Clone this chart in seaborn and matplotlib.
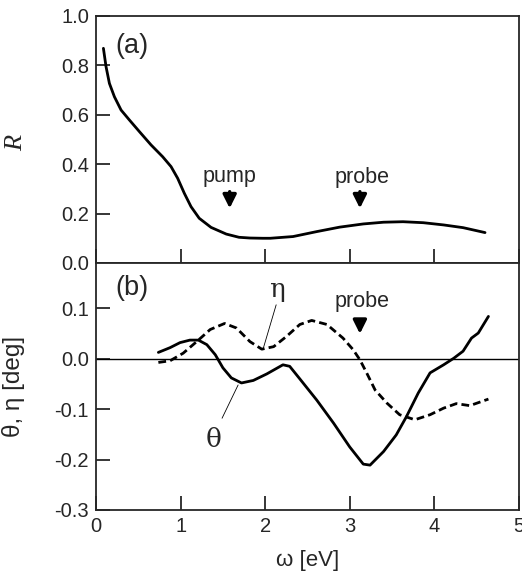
import numpy as np
import pandas as pd
import matplotlib
matplotlib.use("Agg")
import matplotlib.pyplot as plt
import seaborn as sns

# (a) reflectivity R vs photon energy
omega_R = [0.087, 0.118, 0.158, 0.217, 0.296, 0.394, 0.512, 0.650, 0.788, 0.887,
           0.965, 1.044, 1.123, 1.22, 1.36, 1.54, 1.69, 1.82, 1.97, 2.06, 2.33,
           2.61, 2.88, 3.16, 3.40, 3.63, 3.87, 4.11, 4.34, 4.60]
R_vals = [0.869, 0.795, 0.727, 0.673, 0.619, 0.579, 0.532, 0.478, 0.430, 0.390,
          0.343, 0.282, 0.228, 0.181, 0.144, 0.117, 0.104, 0.101, 0.100, 0.100,
          0.107, 0.127, 0.145, 0.158, 0.165, 0.167, 0.163, 0.154, 0.143, 0.123]

# (b) Kerr rotation theta and ellipticity eta
omega_theta = [0.737, 0.875, 0.993, 1.11, 1.21, 1.31, 1.41, 1.50, 1.60, 1.72, 1.86,
               2.02, 2.21, 2.29, 2.41, 2.61, 2.81, 3.00, 3.16, 3.24, 3.40, 3.55,
               3.67, 3.81, 3.95, 4.11, 4.23, 4.34, 4.44, 4.52, 4.64]
theta_vals = [0.0126, 0.022, 0.032, 0.037, 0.037, 0.028, 0.008, -0.018, -0.038,
              -0.048, -0.043, -0.030, -0.012, -0.015, -0.040, -0.082, -0.128,
              -0.175, -0.209, -0.211, -0.184, -0.151, -0.115, -0.068, -0.028,
              -0.012, 0.001, 0.015, 0.041, 0.051, 0.084]
omega_eta = [0.737, 0.875, 1.03, 1.19, 1.35, 1.52, 1.66, 1.82, 1.96, 2.10, 2.25,
             2.41, 2.55, 2.73, 2.92, 3.04, 3.12, 3.20, 3.30, 3.44, 3.59, 3.77,
             3.95, 4.11, 4.26, 4.42, 4.64]
eta_vals = [-0.0073, -0.004, 0.011, 0.034, 0.058, 0.070, 0.061, 0.034, 0.019,
            0.024, 0.044, 0.068, 0.076, 0.068, 0.041, 0.018, -0.002, -0.028,
            -0.062, -0.088, -0.111, -0.121, -0.111, -0.098, -0.089, -0.093, -0.080]

pump_omega = 1.58
probe_omega = 3.12

sns.set_style("ticks")
plt.rcParams['font.family'] = ['Liberation Sans', 'DejaVu Sans']
plt.rcParams['mathtext.fontset'] = 'custom'
plt.rcParams['mathtext.it'] = 'Liberation Serif:italic'

df_R = pd.DataFrame({'omega': omega_R, 'R': R_vals})
df_th = pd.DataFrame({'omega': omega_theta, 'val': theta_vals})
df_eta = pd.DataFrame({'omega': omega_eta, 'val': eta_vals})

fig = plt.figure(figsize=(5.22, 5.80), dpi=100)
ax1 = fig.add_axes([0.184, 0.5466, 0.810, 0.4259])
ax2 = fig.add_axes([0.184, 0.1207, 0.810, 0.4259])

sns.lineplot(data=df_R, x='omega', y='R', ax=ax1, color='black', lw=2.0, sort=False)
sns.lineplot(data=df_th, x='omega', y='val', ax=ax2, color='black', lw=2.0, sort=False)
sns.lineplot(data=df_eta, x='omega', y='val', ax=ax2, color='black', lw=2.0,
             sort=False, linestyle=(0, (2.8, 1.5)))
ax2.axhline(0, color='black', lw=1.0)

for ax in (ax1, ax2):
    ax.set_xlim(0, 5)
    ax.tick_params(direction='in', length=10, width=1.3, labelsize=14.5, pad=5)
    for sp in ax.spines.values():
        sp.set_linewidth(1.3)
    ax.set_xticks([0, 1, 2, 3, 4, 5])

ax1.set_ylim(0, 1.0)
ax1.set_yticks([0.0, 0.2, 0.4, 0.6, 0.8, 1.0])
ax1.set_yticklabels(['0.0', '0.2', '0.4', '0.6', '0.8', '1.0'])
ax1.set_xticklabels([])
ax1.set_xlabel('')
ax1.set_ylabel(r'$\mathit{R}$', fontsize=19)
ax1.yaxis.set_label_coords(-0.163, 0.49)

ax2.set_ylim(-0.3, 0.19)
ax2.set_yticks([-0.3, -0.2, -0.1, 0.0, 0.1])
ax2.set_yticklabels(['-0.3', '-0.2', '-0.1', '0.0', '0.1'])
ax2.set_xlabel('ω [eV]', fontsize=16, labelpad=10)
ax2.set_ylabel('θ, η [deg]', fontsize=17.5)
ax2.yaxis.set_label_coords(-0.168, 0.50)

ax1.text(0.42, 0.88, '(a)', fontsize=19.5, ha='center', va='center')
ax2.text(0.42, 0.14, '(b)', fontsize=19.5, ha='center', va='center')

arrow = dict(arrowstyle='-|>,head_width=0.4,head_length=0.8', color='black', lw=2.4)
ax1.text(pump_omega, 0.35, 'pump', fontsize=15.5, ha='center', va='center')
ax1.annotate('', xy=(pump_omega, 0.21), xytext=(pump_omega, 0.30), arrowprops=arrow)
ax1.text(probe_omega + 0.02, 0.345, 'probe', fontsize=15.5, ha='center', va='center')
ax1.annotate('', xy=(probe_omega, 0.21), xytext=(probe_omega, 0.30), arrowprops=arrow)
ax2.text(probe_omega + 0.02, 0.114, 'probe', fontsize=15.5, ha='center', va='center')
ax2.annotate('', xy=(probe_omega, 0.044), xytext=(probe_omega, 0.082), arrowprops=arrow)

ax2.text(2.14, 0.137, 'η', fontsize=19, ha='center', va='center', family='DejaVu Serif')
ax2.plot([2.13, 1.98], [0.107, 0.022], color='black', lw=0.6)
ax2.text(1.39, -0.161, 'θ', fontsize=19, ha='center', va='center', family='DejaVu Serif')
ax2.plot([1.49, 1.68], [-0.118, -0.052], color='black', lw=0.6)

fig.savefig('out.png', dpi=100)
